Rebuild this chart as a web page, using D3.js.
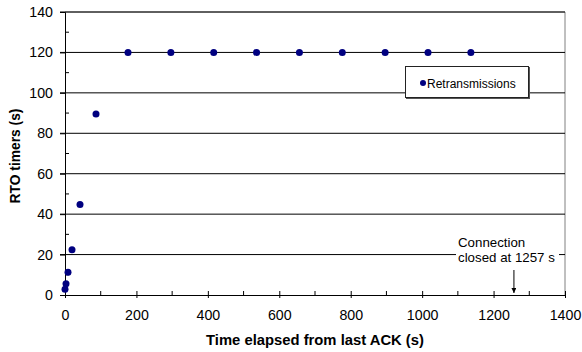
<!DOCTYPE html>
<html>
<head>
<meta charset="utf-8">
<script src="https://cdn.jsdelivr.net/npm/d3@7"></script>
<style>
    body { margin: 0; background: #fff; }
    svg { display: block; font-family: Arial, "Liberation Sans", sans-serif; }
</style>
</head>
<body>
<div id="chart"></div>
<script>
// time (s) at which each RTO timer starts, and the timer value (s)
const elapsed = [0, 2.8, 8.4, 19.6, 42, 86.8, 176.4, 296.4, 416.4, 536.4, 656.4, 776.4, 896.4, 1016.4, 1136.4];
const rto = [2.8, 5.6, 11.2, 22.4, 44.8, 89.6, 120, 120, 120, 120, 120, 120, 120, 120, 120];
const xTicks = [0, 200, 400, 600, 800, 1000, 1200, 1400];
const yTicks = [0, 20, 40, 60, 80, 100, 120, 140];
const closedAt = 1257;

const width = 582,
    height = 352,
    margin = {top: 12, right: 17, bottom: 57, left: 65};

const svg = d3.select('#chart').append('svg')
    .attr('width', width)
    .attr('height', height);

const x = d3.scaleLinear().domain([0, 1400]).range([margin.left, width - margin.right]);
const y = d3.scaleLinear().domain([0, 140]).range([height - margin.bottom, margin.top]);

// plot frame (gray top / right)
svg.append('path')
    .attr('d', 'M' + x(0) + ',' + y(140) + 'H' + x(1400) + 'V' + y(0))
    .attr('fill', 'none')
    .attr('stroke', '#808080');

// gridlines + major y ticks
svg.append('g')
    .selectAll('line')
    .data(yTicks.slice(1))
    .join('line')
    .attr('x1', x(0) - 5)
    .attr('x2', x(1400))
    .attr('y1', d => y(d))
    .attr('y2', d => y(d))
    .attr('stroke', '#000');

// minor y ticks (inside)
svg.append('g')
    .selectAll('line')
    .data(d3.range(10, 140, 20))
    .join('line')
    .attr('x1', x(0))
    .attr('x2', x(0) + 4)
    .attr('y1', d => y(d))
    .attr('y2', d => y(d))
    .attr('stroke', '#000');

// y axis
const yAxis = svg.append('g')
    .attr('transform', 'translate(' + x(0) + ',0)')
    .call(d3.axisLeft(y).tickValues(yTicks).tickSize(5).tickPadding(7));
yAxis.select('.domain').attr('stroke', '#000');
yAxis.selectAll('text').attr('font-size', 14.2).attr('font-family', 'Arial, "Liberation Sans", sans-serif');

// x axis: major ticks cross the axis line
const xAxis = svg.append('g')
    .attr('transform', 'translate(0,' + y(0) + ')')
    .call(d3.axisBottom(x).tickValues(xTicks).tickFormat(d3.format('d'))
        .tickSize(3).tickPadding(12).tickSizeOuter(0));
xAxis.select('.domain').attr('stroke', '#000');
xAxis.selectAll('.tick line').attr('y1', -4);
xAxis.selectAll('text').attr('font-size', 14.2).attr('font-family', 'Arial, "Liberation Sans", sans-serif');

// minor x ticks (inside)
svg.append('g')
    .selectAll('line')
    .data(d3.range(100, 1400, 200))
    .join('line')
    .attr('x1', d => x(d))
    .attr('x2', d => x(d))
    .attr('y1', y(0))
    .attr('y2', y(0) - 4)
    .attr('stroke', '#000');

// axis titles
svg.append('text')
    .attr('x', (x(0) + x(1400)) / 2)
    .attr('y', 345)
    .attr('text-anchor', 'middle')
    .attr('font-size', 14.8)
    .attr('font-weight', 'bold')
    .text('Time elapsed from last ACK (s)');

svg.append('text')
    .attr('transform', 'translate(20,156) rotate(-90)')
    .attr('text-anchor', 'middle')
    .attr('font-size', 13.8)
    .attr('font-weight', 'bold')
    .text('RTO timers (s)');

// annotation
const note = svg.append('g');
note.append('rect')
    .attr('x', 456)
    .attr('y', 236)
    .attr('width', 103)
    .attr('height', 30)
    .attr('fill', '#fff');
note.append('text')
    .attr('x', 458)
    .attr('y', 247)
    .attr('font-size', 13.3)
    .text('Connection');
note.append('text')
    .attr('x', 458)
    .attr('y', 262)
    .attr('font-size', 13.3)
    .text('closed at 1257 s');

svg.append('defs').append('marker')
    .attr('id', 'arrow')
    .attr('viewBox', '0 0 10 10')
    .attr('refX', 10)
    .attr('refY', 5)
    .attr('markerWidth', 5)
    .attr('markerHeight', 5)
    .attr('orient', 'auto')
    .append('path')
    .attr('d', 'M0,0L10,5L0,10z')
    .attr('fill', '#000');

svg.append('line')
    .attr('x1', x(closedAt))
    .attr('x2', x(closedAt))
    .attr('y1', 270)
    .attr('y2', y(0) - 2)
    .attr('stroke', '#000')
    .attr('marker-end', 'url(#arrow)');

// points
svg.append('g')
    .selectAll('circle')
    .data(elapsed)
    .join('circle')
    .attr('cx', d => x(d))
    .attr('cy', (d, i) => y(rto[i]))
    .attr('r', 3.5)
    .attr('fill', '#000080');

// legend
const legend = svg.append('g');
legend.append('rect')
    .attr('x', 406)
    .attr('y', 67)
    .attr('width', 124)
    .attr('height', 32)
    .attr('fill', '#555');
legend.append('rect')
    .attr('x', 405.5)
    .attr('y', 66.5)
    .attr('width', 123)
    .attr('height', 31)
    .attr('fill', '#fff')
    .attr('stroke', '#222');
legend.append('circle')
    .attr('cx', 423)
    .attr('cy', 83)
    .attr('r', 3)
    .attr('fill', '#000080');
legend.append('text')
    .attr('x', 427)
    .attr('y', 87.5)
    .attr('font-size', 12)
    .text('Retransmissions');
</script>
</body>
</html>
